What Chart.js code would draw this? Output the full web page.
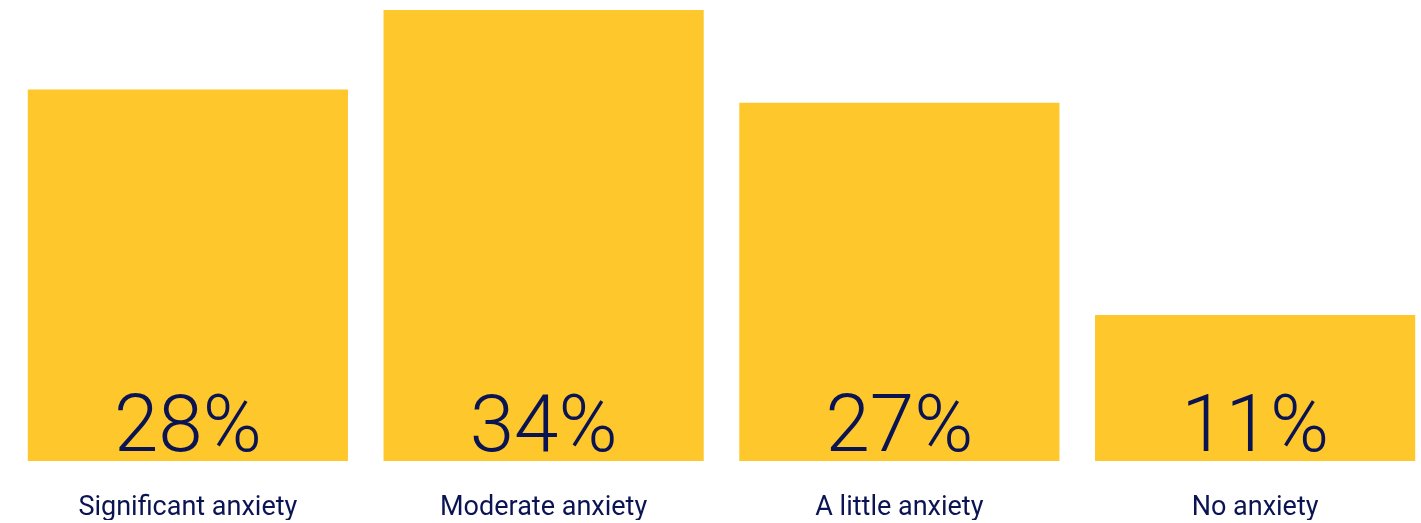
<!DOCTYPE html>
<html>
<head>
<meta charset="utf-8">
<script src="https://cdn.jsdelivr.net/npm/chart.js@4"></script>
<style>
  html, body { margin: 0; padding: 0; background: #fff; overflow: hidden; }
  #wrap { width: 1440px; height: 523px; position: relative; }
</style>
</head>
<body>
<div id="wrap"><canvas id="chart"></canvas></div>
<script>
// Datos de la gráfica
const categorias = ['Significant anxiety', 'Moderate anxiety', 'A little anxiety', 'No anxiety'];
const porcentajes = [28, 34, 27, 11];

// Colores
const AMARILLO = '#FEC72C';
const MARINO = '#0B1452';

// Etiqueta grande de porcentaje dentro de cada barra (abajo)
const etiquetasValor = {
    id: 'etiquetasValor',
    afterDatasetsDraw(chart) {
        const ctx = chart.ctx;
        const meta = chart.getDatasetMeta(0);
        ctx.save();
        ctx.fillStyle = MARINO;
        ctx.font = '300 80px Roboto';
        ctx.textAlign = 'center';
        ctx.textBaseline = 'alphabetic';
        meta.data.forEach((bar, i) => {
            ctx.fillText(porcentajes[i] + '%', bar.x, bar.base - 10);
        });
        ctx.restore();
    }
};

new Chart(document.getElementById('chart'), {
    type: 'bar',
    data: {
        labels: categorias,
        datasets: [{ data: porcentajes, backgroundColor: AMARILLO, borderWidth: 0, categoryPercentage: 0.9, barPercentage: 1 }]
    },
    options: {
        responsive: true, maintainAspectRatio: false, animation: false,
        layout: { padding: { left: 10, right: 7, top: 10, bottom: 3 } },
        plugins: { legend: { display: false }, tooltip: { enabled: false } },
        scales: {
            x: {
                grid: { display: false, drawTicks: false }, border: { display: false },
                ticks: { color: MARINO, padding: 31, font: { family: 'Roboto', size: 27 } },
                afterFit(scale) { scale.height = 59; }
            },
            y: { display: false, min: 0, max: 34 }
        }
    },
    plugins: [etiquetasValor]
});
</script>
</body>
</html>
